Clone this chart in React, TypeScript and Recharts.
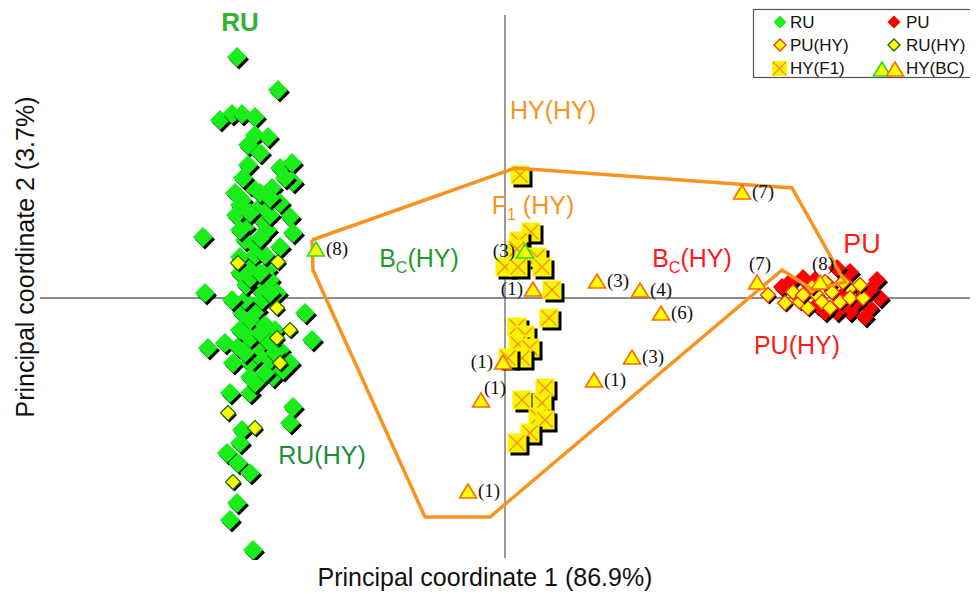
import { ScatterChart, Scatter, XAxis, YAxis, ReferenceLine } from 'recharts';

// PCoA scores: [coord1, coord2]
const ruPoints = [
  [-2.68, 2.41], [-2.27, 2.08], [-2.85, 1.78], [-2.73, 1.84], [-2.63, 1.84], [-2.5, 1.81],
  [-2.5, 1.63], [-2.37, 1.61], [-2.57, 1.53], [-2.57, 1.33], [-2.25, 1.3], [-2.13, 1.35],
  [-2.12, 1.16], [-2.33, 1.1], [-2.7, 1.05], [-2.63, 0.98], [-2.62, 0.9], [-2.43, 0.93],
  [-2.25, 0.95], [-2.15, 0.81], [-2.6, 0.71], [-2.43, 0.78], [-2.38, 0.68], [-2.12, 0.65],
  [-3.02, 0.61], [-2.6, 0.58], [-2.48, 0.51], [-2.25, 0.51], [-2.65, 0.41], [-2.53, 0.31],
  [-2.38, 0.28], [-2.65, 0.25], [-3.0, 0.05], [-2.63, -0.15], [-2.48, -0.12], [-2.35, 0.18],
  [-2.48, 0.11], [-2.28, 0.05], [-2.0, -0.15], [-1.93, -0.42], [-2.97, -0.5], [-2.8, -0.45],
  [-2.67, -0.49], [-2.43, -0.45], [-2.72, -0.65], [-2.55, -0.65], [-2.25, -0.52], [-2.15, -0.65],
  [-2.32, -0.79], [-2.55, -0.79], [-2.75, -0.95], [-2.55, -0.95], [-2.12, -1.09], [-2.15, -1.25],
  [-2.63, -1.32], [-2.78, -1.55], [-2.65, -1.45], [-2.67, -1.65], [-2.55, -1.75], [-2.68, -2.05],
  [-2.75, -2.22], [-2.52, -2.52], [-2.6, -0.02], [-2.43, -0.02], [-2.55, -0.22], [-2.65, -0.32],
  [-2.4, -0.27], [-2.3, -0.32], [-2.47, -0.57], [-2.35, -0.62], [-2.22, -0.72], [-2.59, 0.13],
  [-2.73, -0.02], [-2.65, 0.93], [-2.55, 1.13], [-2.69, 0.83], [-2.5, 0.43], [-2.4, 0.43],
  [-2.65, 0.68], [-2.35, 0.83], [-2.55, 0.2], [-2.45, 0.25], [-2.35, 0.05], [-2.55, -0.4],
  [-2.45, -0.35], [-2.35, -0.45], [-2.6, -0.55], [-2.4, -0.75], [-2.3, -0.55], [-2.5, -0.85],
  [-2.45, 0.6], [-2.55, 0.85], [-2.45, 1.05], [-2.35, 1.0], [-2.62, 1.2], [-2.45, 1.45],
  [-2.2, 1.2],
];

const ruHyPoints = [
  [-2.67, 0.35], [-2.27, 0.36], [-2.28, -0.1], [-2.15, -0.32], [-2.28, -0.4], [-2.25, -0.65],
  [-2.77, -1.15], [-2.5, -1.3], [-2.72, -1.84],
];

const f1Points = [
  [0.15, 1.23], [0.26, 0.66], [0.14, 0.57], [0.12, 0.49], [0.32, 0.41], [0.0, 0.31],
  [0.13, 0.31], [0.37, 0.31], [0.47, 0.08], [0.44, -0.2], [0.12, -0.29], [0.2, -0.37],
  [0.13, -0.46], [0.25, -0.5], [0.17, -0.6], [0.03, -0.6], [0.4, -0.9], [0.17, -1.02],
  [0.37, -1.05], [0.33, -1.19], [0.4, -1.22], [0.25, -1.35], [0.12, -1.45],
];

const puPoints = [
  [3.72, 0.18], [3.65, -0.1], [3.52, -0.04], [3.38, 0.03], [3.45, 0.26], [3.32, 0.3],
  [2.98, 0.2], [2.85, 0.16], [2.77, 0.11], [3.23, 0.13], [3.45, -0.14], [3.55, 0.1],
  [3.32, -0.14], [3.12, -0.07], [3.2, -0.14], [3.75, 0.0], [3.6, -0.19], [3.1, 0.18],
  [3.65, 0.08],
];

const puHyPoints = [
  [2.63, 0.03], [2.8, -0.05], [2.88, 0.06], [2.95, -0.04], [3.03, -0.1], [2.98, 0.03],
  [3.12, 0.03], [3.17, -0.04], [3.27, 0.06], [3.25, -0.1], [3.35, -0.04], [3.45, 0.1],
  [3.45, 0.0], [3.58, 0.0], [3.55, 0.13], [3.38, 0.16], [3.07, 0.11], [3.2, 0.16],
];

// backcross individuals: position, count label, recurrent parent, label side
const bcPoints = [
  [-1.89, 0.48], [0.2, 0.46], [0.28, 0.08], [0.92, 0.16], [1.35, 0.07], [1.56, -0.16],
  [1.27, -0.6], [0.89, -0.83], [-0.24, -1.03], [-0.02, -0.65], [-0.37, -1.94], [2.37, 1.05],
  [2.52, 0.15], [3.15, 0.15],
];
const bcCounts = [8, 3, 1, 3, 4, 6, 3, 1, 1, 1, 1, 7, 7, 8];
const bcParent = ['RU', 'RU', 'PU', 'PU', 'PU', 'PU', 'PU', 'PU', 'PU', 'PU', 'PU', 'PU', 'PU', 'PU'];
const bcSide = ['r', 'l', 'l', 'r', 'r', 'r', 'r', 'r', 'tr', 'l', 'r', 'r', 't', 't'];

// outline around HY(HY)
const hullPoints = [
  [-1.93, 0.58], [0.1, 1.3], [2.87, 1.1], [3.4, 0.16], [3.08, 0.08], [2.77, 0.28],
  [-0.15, -2.19], [-0.8, -2.19], [-1.92, 0.28], [-1.93, 0.58],
];

const tagPoints = [
  [-2.65, 2.76], [0.48, 1.88], [0.28, 0.93], [-0.86, 0.4], [1.87, 0.4], [3.57, 0.55],
  [2.92, -0.47], [-1.83, -1.57],
];
const tagNames = ['RU', 'HY(HY)', 'F1(HY)', 'BC(HY)-RU', 'BC(HY)-PU', 'PU', 'PU(HY)', 'RU(HY)'];

const toXY = (arr: number[][]) => arr.map(([x, y]) => ({ x, y }));

const GREEN = '#1aee1a';
const RED = '#ff0000';
const YELLOW = '#ffff00';
const ORANGE = '#f7931e';
const SANS = '"Liberation Sans", Arial, sans-serif';
const SERIF = '"Liberation Serif", "Times New Roman", serif';

const diamondPath = (cx: number, cy: number, r: number) =>
  `M${cx},${cy - r}L${cx + r},${cy}L${cx},${cy + r}L${cx - r},${cy}Z`;

const makeDiamond = (r: number, fill: string, stroke: string, sh: number) => (props: any) => {
  const { cx, cy } = props;
  return (
    <g>
      <path d={diamondPath(cx + sh, cy + sh + 0.5, r)} fill="#000" />
      <path d={diamondPath(cx, cy, r)} fill={fill} stroke={stroke} strokeWidth={stroke === 'none' ? 0 : 1.3} />
    </g>
  );
};

const F1Square = (props: any) => {
  const { cx, cy } = props;
  const h = 9.5;
  return (
    <g>
      <rect x={cx - h + 3} y={cy - h + 3} width={h * 2} height={h * 2} fill="#000" />
      <rect x={cx - h} y={cy - h} width={h * 2} height={h * 2} fill="#f8f400" />
      <path
        d={`M${cx - h + 2},${cy - h + 2}L${cx + h - 2},${cy + h - 2}M${cx + h - 2},${cy - h + 2}L${cx - h + 2},${cy + h - 2}`}
        stroke="#ff8a1a"
        strokeWidth={1.4}
      />
    </g>
  );
};

const triPath = (cx: number, cy: number) => `M${cx},${cy - 8}L${cx + 8.5},${cy + 6}L${cx - 8.5},${cy + 6}Z`;

const BcTriangle = (props: any) => {
  const { cx, cy, payload } = props;
  const stroke = payload.parent === 'RU' ? '#22dd22' : '#ff6a00';
  let tx = cx + 10;
  let ty = cy + 5;
  let anchor: 'start' | 'end' | 'middle' = 'start';
  if (payload.side === 'l') {
    tx = cx - 10;
    anchor = 'end';
  } else if (payload.side === 't') {
    tx = cx + 3;
    ty = cy - 13;
    anchor = 'middle';
  } else if (payload.side === 'tr') {
    tx = cx + 3;
    ty = cy - 7;
  }
  return (
    <g>
      <path d={triPath(cx, cy)} fill={YELLOW} stroke={stroke} strokeWidth={1.6} />
      <text x={tx} y={ty} textAnchor={anchor} fontFamily={SERIF} fontSize={19} fill="#111">
        ({payload.n})
      </text>
    </g>
  );
};

const tagStyle: Record<string, { color: string; size: number; weight?: number }> = {
  RU: { color: '#2fb52f', size: 26, weight: 700 },
  'HY(HY)': { color: ORANGE, size: 25 },
  'F1(HY)': { color: ORANGE, size: 25 },
  'BC(HY)-RU': { color: '#1f9a2f', size: 25 },
  'BC(HY)-PU': { color: '#ff1a1a', size: 25 },
  PU: { color: '#ff1a1a', size: 27 },
  'PU(HY)': { color: '#ff1a1a', size: 25 },
  'RU(HY)': { color: '#218b3c', size: 25 },
};

const Tag = (props: any) => {
  const { cx, cy, payload } = props;
  const st = tagStyle[payload.name];
  let content: any = payload.name;
  if (payload.name.startsWith('BC')) {
    content = (
      <>
        <tspan>B</tspan>
        <tspan fontSize={16} dy={6}>C</tspan>
        <tspan dy={-6}>(HY)</tspan>
      </>
    );
  } else if (payload.name === 'F1(HY)') {
    content = (
      <>
        <tspan>F</tspan>
        <tspan fontSize={16} dy={6}>1</tspan>
        <tspan dy={-6}> (HY)</tspan>
      </>
    );
  }
  return (
    <text
      x={cx}
      y={cy + st.size * 0.36}
      textAnchor="middle"
      fontFamily={SANS}
      fontSize={st.size}
      fontWeight={st.weight ?? 400}
      fill={st.color}
    >
      {content}
    </text>
  );
};

const Nothing = () => <g />;

export default function App() {
  const bcData = bcPoints.map(([x, y], i) => ({
    x,
    y,
    n: bcCounts[i],
    parent: bcParent[i],
    side: bcSide[i],
  }));
  const tagData = tagPoints.map(([x, y], i) => ({ x, y, name: tagNames[i] }));

  return (
    <div style={{ position: 'relative', width: 970, height: 586, background: '#fff' }}>
      <ScatterChart width={970} height={586} margin={{ top: 2, right: 0, bottom: 34, left: 32 }}>
        <XAxis type="number" dataKey="x" domain={[-4.65, 4.73]} allowDataOverflow hide height={0} />
        <YAxis type="number" dataKey="y" domain={[-2.62, 2.88]} allowDataOverflow hide width={0} />
        <ReferenceLine
          segment={[{ x: 0, y: -2.6 }, { x: 0, y: 2.83 }]}
          stroke="#666"
          strokeWidth={1.3}
          ifOverflow="visible"
        />
        <ReferenceLine
          segment={[{ x: -4.65, y: 0 }, { x: 4.73, y: 0 }]}
          stroke="#666"
          strokeWidth={1.3}
          ifOverflow="visible"
        />
        <Scatter data={toXY(ruPoints)} shape={makeDiamond(10, GREEN, 'none', 2)} isAnimationActive={false} />
        <Scatter data={toXY(ruHyPoints)} shape={makeDiamond(7.5, YELLOW, '#1a6f1a', 1.5)} isAnimationActive={false} />
        <Scatter data={toXY(f1Points)} shape={F1Square} isAnimationActive={false} />
        <Scatter data={toXY(puPoints)} shape={makeDiamond(9, RED, 'none', 2)} isAnimationActive={false} />
        <Scatter data={toXY(puHyPoints)} shape={makeDiamond(7.5, YELLOW, '#ff3300', 1.5)} isAnimationActive={false} />
        <Scatter
          data={toXY(hullPoints)}
          line={{ stroke: ORANGE, strokeWidth: 3.5 }}
          lineType="joint"
          shape={Nothing}
          isAnimationActive={false}
        />
        <Scatter data={bcData} shape={BcTriangle} isAnimationActive={false} />
        <Scatter data={tagData} shape={Tag} isAnimationActive={false} />
      </ScatterChart>

      <svg
        width={970}
        height={586}
        style={{ position: 'absolute', left: 0, top: 0, pointerEvents: 'none' }}
      >
        <text x={477} y={578} textAnchor="middle" fontFamily={SANS} fontSize={25} fill="#111">
          Principal coordinate 1 (86.9%)
        </text>
        <text
          transform="translate(17,249) rotate(-90)"
          textAnchor="middle"
          dominantBaseline="central"
          fontFamily={SANS}
          fontSize={25}
          fill="#111"
        >
          Principal coordinate 2 (3.7%)
        </text>

        <g fontFamily={SANS} fontSize={17} fill="#111">
          <rect x={745.5} y={1.5} width={222} height={68} fill="#fff" stroke="#555" strokeWidth={1.2} />
          <path d={diamondPath(772, 14, 6.5)} fill={GREEN} />
          <text x={782} y={20}>RU</text>
          <path d={diamondPath(886, 14, 6.5)} fill={RED} />
          <text x={898} y={20}>PU</text>
          <path d={diamondPath(772, 37, 6)} fill={YELLOW} stroke="#ff3300" strokeWidth={1.4} />
          <text x={782} y={43}>PU(HY)</text>
          <path d={diamondPath(886, 37, 6)} fill={YELLOW} stroke="#1a6f1a" strokeWidth={1.4} />
          <text x={898} y={43}>RU(HY)</text>
          <rect x={764} y={53} width={15} height={15} fill="#f8f400" />
          <path d="M765,54L778,67M778,54L765,67" stroke="#ff8a1a" strokeWidth={1.4} />
          <text x={782} y={66}>HY(F1)</text>
          <path d={triPath(874, 62)} fill={YELLOW} stroke="#22dd22" strokeWidth={1.6} />
          <path d={triPath(887, 62)} fill={YELLOW} stroke="#ff6a00" strokeWidth={1.6} />
          <text x={898} y={66}>HY(BC)</text>
        </g>
      </svg>
    </div>
  );
}
